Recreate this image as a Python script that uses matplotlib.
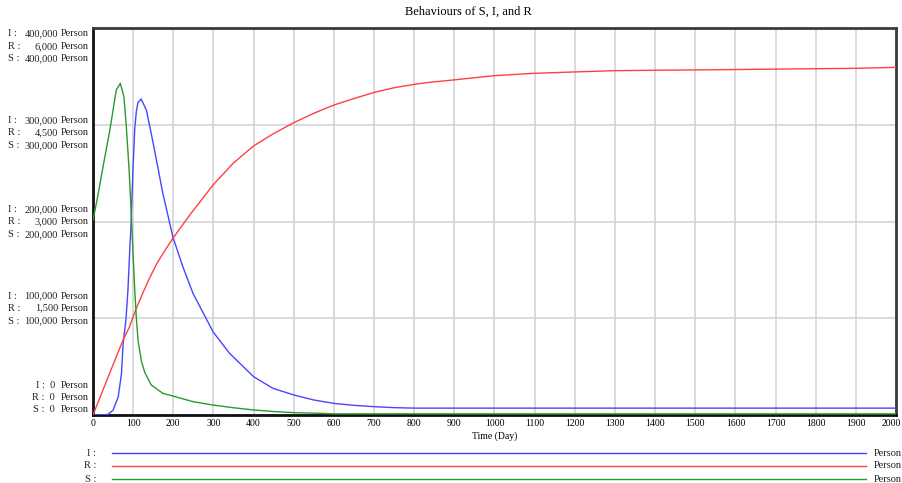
import matplotlib
matplotlib.use("Agg")
import matplotlib.pyplot as plt
import matplotlib.transforms as mtransforms
from matplotlib.lines import Line2D

# ---------------- data ----------------
t_I = [0, 20, 37, 50, 63, 71, 75, 82, 87, 92, 94, 97, 100, 104, 108, 112, 120, 133, 145,
       158, 174, 199, 224, 249, 299, 340, 400, 448, 500, 550, 600, 650, 701, 750, 801,
       1000, 1500, 2000]
I_vals = [0, 200, 500, 5000, 19000, 43000, 74000, 98000, 129000, 175000, 190000, 225000,
          258000, 296000, 314000, 323000, 326600, 315000, 291000, 263600, 229000, 184000,
          153000, 125800, 86000, 63800, 39600, 27600, 20700, 15500, 12000, 10000, 8600,
          7600, 7100, 7100, 7100, 7100]

t_R = [0, 25, 50, 75, 91, 100, 108, 125, 141, 160, 180, 199, 220, 241, 299, 349, 400, 448,
       500, 550, 600, 652, 701, 751, 801, 838, 897, 997, 1097, 1196, 1296, 1400, 1500,
       1700, 1900, 2000]
R_vals = [0, 390, 780, 1163, 1369, 1524, 1654, 1905, 2125, 2360, 2560, 2739, 2920, 3101,
          3566, 3902, 4171, 4357, 4532, 4678, 4806, 4910, 5003, 5075, 5127, 5158, 5194,
          5260, 5297, 5318, 5338, 5345, 5350, 5362, 5375, 5390]

t_S = [0, 10, 25, 42, 58, 68, 77, 83, 90, 96, 100, 104, 108, 112, 116, 121, 129, 145, 162,
       174, 199, 249, 299, 350, 400, 450, 500, 560, 600, 800, 1000, 1500, 2000]
S_vals = [201500, 222000, 256600, 294600, 336000, 342800, 329000, 298000, 253000, 201500,
          165000, 129000, 100000, 78000, 67000, 55000, 44000, 31000, 26000, 22400, 19600,
          13800, 10300, 7500, 5200, 3600, 2400, 1800, 1200, 1200, 1200, 1200, 1200]

x_ticks = list(range(0, 2001, 100))
IS_ticks = [0, 100000, 200000, 300000, 400000]
R_ticks = [0, 1500, 3000, 4500, 6000]
series_names = ["I", "R", "S"]
title = "Behaviours of S, I, and R"
x_label = "Time (Day)"
unit = "Person"

# ---------------- figure ----------------
W, H = 903, 483
fig = plt.figure(figsize=(W / 100, H / 100), dpi=100)
FONT = "Liberation Serif"

L, R_, T, B = 93, 896, 28, 415
ax = fig.add_axes([L / W, 1 - B / H, (R_ - L) / W, (B - T) / H])
axR = ax.twinx()
axS = ax.twinx()

col_I = "#4646ff"
col_R = "#ff4040"
col_S = "#2a9a2a"

ax.plot(t_I, I_vals, color=col_I, lw=1.0, zorder=3)
axR.plot(t_R, R_vals, color=col_R, lw=1.0)
axS.plot(t_S, S_vals, color=col_S, lw=1.0)

ax.set_xlim(0, 2000)
ax.set_ylim(0, 400000)
axR.set_ylim(0, 6000)
axS.set_ylim(0, 400000)

ax.set_xticks(x_ticks)
ax.set_xticklabels([str(v) for v in x_ticks], fontsize=7, family=FONT)
ax.set_yticks(IS_ticks)
ax.set_yticklabels([])
ax.tick_params(axis="both", length=0, pad=3)
# keep the last tick label inside the canvas
last = ax.get_xticklabels()[-1]
last.set_transform(last.get_transform() +
                   mtransforms.ScaledTranslation(-5 / 100, 0, fig.dpi_scale_trans))
ax.grid(True, color="#d4d4d4", lw=1.2)
ax.set_axisbelow(True)
for a in (axR, axS):
    a.set_yticks([])
    a.patch.set_visible(False)
    for s in a.spines.values():
        s.set_visible(False)

ax.spines["left"].set_color("#111111")
ax.spines["bottom"].set_color("#111111")
ax.spines["top"].set_color("#3a3a3a")
ax.spines["right"].set_color("#3a3a3a")
for s in ax.spines.values():
    s.set_linewidth(2.0)

ax.set_xlabel(x_label, fontsize=7, family=FONT, labelpad=2)
fig.text(468 / W, 1 - 12 / H, title, ha="center", va="center", fontsize=9, family=FONT)

# ---------------- left-hand multi-scale labels ----------------
offsets = {400000: (6, 19, 31), 300000: (-4, 8, 21), 200000: (-12, 0, 13),
           100000: (-22, -10, 3), 0: (-29, -17, -5)}
lab_fs = 7.5
for i, v in enumerate(IS_ticks):
    vals = {"I": IS_ticks[i], "R": R_ticks[i], "S": IS_ticks[i]}
    for k, name in enumerate(series_names):
        dy = offsets[v][k]
        tr = mtransforms.blended_transform_factory(fig.transFigure, ax.transData) + \
            mtransforms.ScaledTranslation(0, -dy / 100, fig.dpi_scale_trans)
        if vals[name] == 0:
            fig.text(55 / W, v, f"{name} :  0", transform=tr, ha="right", va="center",
                     fontsize=lab_fs, family=FONT, color="#222222")
        else:
            fig.text(8 / W, v, f"{name} :", transform=tr, ha="left", va="center",
                     fontsize=lab_fs, family=FONT, color="#222222")
            fig.text(58 / W, v, f"{vals[name]:,}", transform=tr, ha="right", va="center",
                     fontsize=lab_fs, family=FONT, color="#222222")
        fig.text(61 / W, v, unit, transform=tr, ha="left", va="center",
                 fontsize=lab_fs, family=FONT, color="#222222")

# ---------------- bottom legend ----------------
leg_rows = [453, 466, 479]
for name, col, yy in zip(series_names, [col_I, col_R, col_S], leg_rows):
    yf = 1 - yy / H
    fig.text(96 / W, yf, f"{name} :", ha="right", va="center", fontsize=7.5,
             family=FONT, color="#222222")
    fig.add_artist(Line2D([112 / W, 866 / W], [yf, yf], color=col, lw=1.0,
                          transform=fig.transFigure))
    fig.text(874 / W, yf, unit, ha="left", va="center", fontsize=7.5,
             family=FONT, color="#222222")

fig.savefig("out.png", dpi=100)
